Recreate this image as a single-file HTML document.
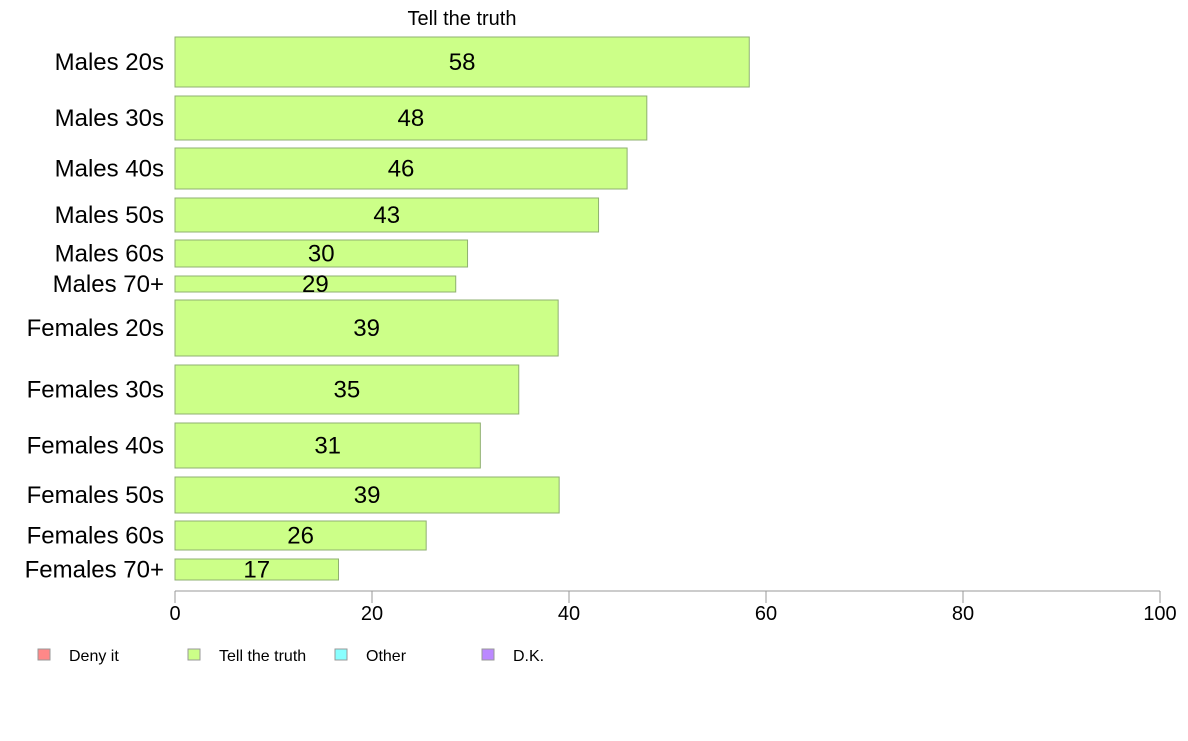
<!DOCTYPE html>
<html><head><meta charset="utf-8"><style>
body{margin:0;background:#fff;font-family:"Liberation Sans",Arial,sans-serif}
svg text{font-family:"Liberation Sans",Arial,sans-serif}
</style></head><body>
<svg id="chart" width="1188" height="736">
<text x="462" y="25" text-anchor="middle" font-size="20">Tell the truth</text>
<g id="bars"></g>
<g id="axis"></g>
<g id="legend"></g>
</svg>
<script>
const categories=["Males 20s","Males 30s","Males 40s","Males 50s","Males 60s","Males 70+","Females 20s","Females 30s","Females 40s","Females 50s","Females 60s","Females 70+"];
const values=[58.3,47.9,45.9,43.0,29.7,28.5,38.9,34.9,31.0,39.0,25.5,16.6];
const labels=["58","48","46","43","30","29","39","35","31","39","26","17"];
const bandTops=[37,96,148,198,240,276,300,365,423,477,521,559];
const bandBottoms=[87,140,189,232,267,292,356,414,468,513,550,580];
const ticks=[0,20,40,60,80,100];
const legendItems=["Deny it","Tell the truth","Other","D.K."];
const legendColors=["#ff8888","#ccff88","#88ffff","#bb88ff"];
const NS="http://www.w3.org/2000/svg";
const x=v=>175+v*9.85;
function mk(tag,attrs,parent){const e=document.createElementNS(NS,tag);for(const k in attrs)e.setAttribute(k,attrs[k]);parent.appendChild(e);return e;}
const gb=document.getElementById('bars');
categories.forEach((c,i)=>{
 const t=bandTops[i],b=bandBottoms[i],mid=(t+b)/2;
 const r=mk('rect',{x:x(0),y:t,width:x(values[i])-x(0),height:b-t,fill:'#ccff88',stroke:'#8fb070','stroke-width':1},gb);
 
 
 const l=mk('text',{x:164,y:mid+8,'text-anchor':'end','font-size':24},gb);l.textContent=c;
 
 
 const v=mk('text',{x:(x(0)+x(values[i]))/2,y:mid+8,'text-anchor':'middle','font-size':24},gb);v.textContent=labels[i];
 
 
});
const ga=document.getElementById('axis');
mk('line',{x1:x(0),x2:x(100),y1:591,y2:591,stroke:'#999'},ga);
ticks.forEach(t=>{
 mk('line',{x1:x(t),x2:x(t),y1:591,y2:603,stroke:'#999'},ga);
 const tx=mk('text',{x:x(t),y:620,'text-anchor':'middle','font-size':20},ga);tx.textContent=t;
 
 
});
const gl=document.getElementById('legend');
const lx=[38,188,335,482];
legendItems.forEach((n,i)=>{
 const s=mk('rect',{x:lx[i],y:649,width:12,height:11,fill:legendColors[i],stroke:'#999'},gl);
 
 
 const t=mk('text',{x:lx[i]+31,y:661,'font-size':16},gl);t.textContent=n;
 
 
});
</script>
</body></html>
